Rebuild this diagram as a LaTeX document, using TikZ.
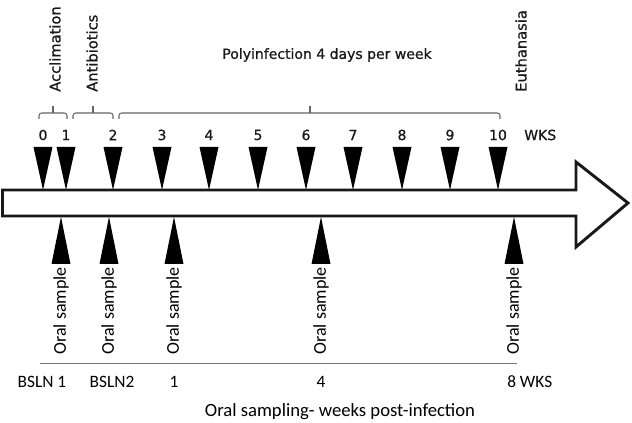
\documentclass[tikz,border=0pt]{standalone}
\usepackage{fontspec}
\setmainfont{Carlito}
\newfontfamily\topfont[FakeBold=0.9]{DejaVu Sans}

\tikzstyle{body}=[draw=black!90,line width=2.2pt,fill=white,line join=miter]
\tikzstyle{wk}=[fill=black]
\tikzstyle{brace}=[draw=black!60,line width=0.8pt,rounded corners=2pt]
\tikzstyle{toptxt}=[font=\topfont\fontsize{10.5}{12}\selectfont,text=black!90,inner sep=0pt]
\tikzstyle{phase}=[font=\topfont\fontsize{11}{13}\selectfont,text=black!90,inner sep=0pt,rotate=90,anchor=west]
\tikzstyle{oral}=[font=\fontsize{13.5}{15}\selectfont,text=black,inner sep=0pt,rotate=90,anchor=east]
\tikzstyle{botlbl}=[font=\fontsize{13}{15}\selectfont,text=black,inner sep=0pt]

\begin{document}
\begin{tikzpicture}[x=0.75pt,y=-0.75pt]
\useasboundingbox (0,0) rectangle (632,423);
% Timeline arrow

   \draw[body] (2.5,190) coordinate(abl) -- (576,190) -- (576,162) coordinate(aht)
-- (628,203) coordinate(tip) -- (576,247) coordinate(ahb) -- (576,216) -- (2.5,216) -- cycle;

% Weekly markers

   \fill[wk] (33.5,147) -- (52.5,147) -- (43,190) coordinate(m0) -- cycle;
   \fill[wk] (56.5,147) -- (75.5,147) -- (66,190) coordinate(m1) -- cycle;
   \fill[wk] (103.5,147) -- (122.5,147) -- (113,190) coordinate(m2) -- cycle;
   \fill[wk] (152.5,147) -- (171.5,147) -- (162,190) coordinate(m3) -- cycle;
   \fill[wk] (199.5,147) -- (218.5,147) -- (209,190) coordinate(m4) -- cycle;
   \fill[wk] (248.5,147) -- (267.5,147) -- (258,190) coordinate(m5) -- cycle;
   \fill[wk] (296.5,147) -- (315.5,147) -- (306,190) coordinate(m6) -- cycle;
   \fill[wk] (343.5,147) -- (362.5,147) -- (353,190) coordinate(m7) -- cycle;
   \fill[wk] (392.5,147) -- (411.5,147) -- (402,190) coordinate(m8) -- cycle;
   \fill[wk] (440.5,147) -- (459.5,147) -- (450,190) coordinate(m9) -- cycle;
   \fill[wk] (488.5,147) -- (507.5,147) -- (498,190) coordinate(m10) -- cycle;

   \node[toptxt] (w0) at (43,135) {0};
   \node[toptxt] (w1) at (66,135) {1};
   \node[toptxt] (w2) at (113,135) {2};
   \node[toptxt] (w3) at (162,135) {3};
   \node[toptxt] (w4) at (209,135) {4};
   \node[toptxt] (w5) at (258,135) {5};
   \node[toptxt] (w6) at (306,135) {6};
   \node[toptxt] (w7) at (353,135) {7};
   \node[toptxt] (w8) at (402,135) {8};
   \node[toptxt] (w9) at (450,135) {9};
   \node[toptxt] (w10) at (498,135) {10};
   \node[toptxt,anchor=west] (wks) at (524,135) {WKS};

% Phases

   \draw[brace] (39,119) -- (39,113) -- (67,113) -- (67,119);
   \draw[brace] (53,113) -- (53,106);
   \draw[brace] (73,119) -- (73,113) -- (113,113) -- (113,119);
   \draw[brace] (93,113) -- (93,106);
   \draw[brace] (119,119) -- (119,113) -- (500,113) -- (500,119);
   \draw[brace] (310,113) -- (310,106);

   \node[phase] (accl) at (55,92) {Acclimation};
   \node[phase] (anti) at (92,92) {Antibiotics};
   \node[phase] (euth) at (521,92) {Euthanasia};
   \node[toptxt] (poly) at (327,55) {Polyinfection 4 days per week};

% Oral sampling

   \fill[wk] (51.5,264) -- (70.5,264) -- (61,217) coordinate(s1) -- cycle;
   \fill[wk] (99.5,264) -- (118.5,264) -- (109,217) coordinate(s2) -- cycle;
   \fill[wk] (164.5,264) -- (183.5,264) -- (174,217) coordinate(s3) -- cycle;
   \fill[wk] (311.5,264) -- (330.5,264) -- (321,217) coordinate(s4) -- cycle;
   \fill[wk] (504.5,264) -- (523.5,264) -- (514,217) coordinate(s5) -- cycle;

   \node[oral] (os1) at (61,267) {Oral sample};
   \node[oral] (os2) at (109,267) {Oral sample};
   \node[oral] (os3) at (174,267) {Oral sample};
   \node[oral] (os4) at (321,267) {Oral sample};
   \node[oral] (os5) at (514,267) {Oral sample};

   \draw[black!55,line width=0.6pt] (40,363) coordinate(rl) -- (517,363) coordinate(rr);

   \node[botlbl] (b1) at (42,382) {BSLN 1};
   \node[botlbl] (b2) at (112,382) {BSLN2};
   \node[botlbl] (p1) at (174,382) {1};
   \node[botlbl] (p4) at (321,382) {4};
   \node[botlbl,anchor=west] (p8) at (507,382) {8 WKS};
   \node[botlbl,font=\fontsize{14}{16}\selectfont] (cap) at (340,412) {Oral sampling- weeks post-infection};

\end{tikzpicture}
\end{document}
